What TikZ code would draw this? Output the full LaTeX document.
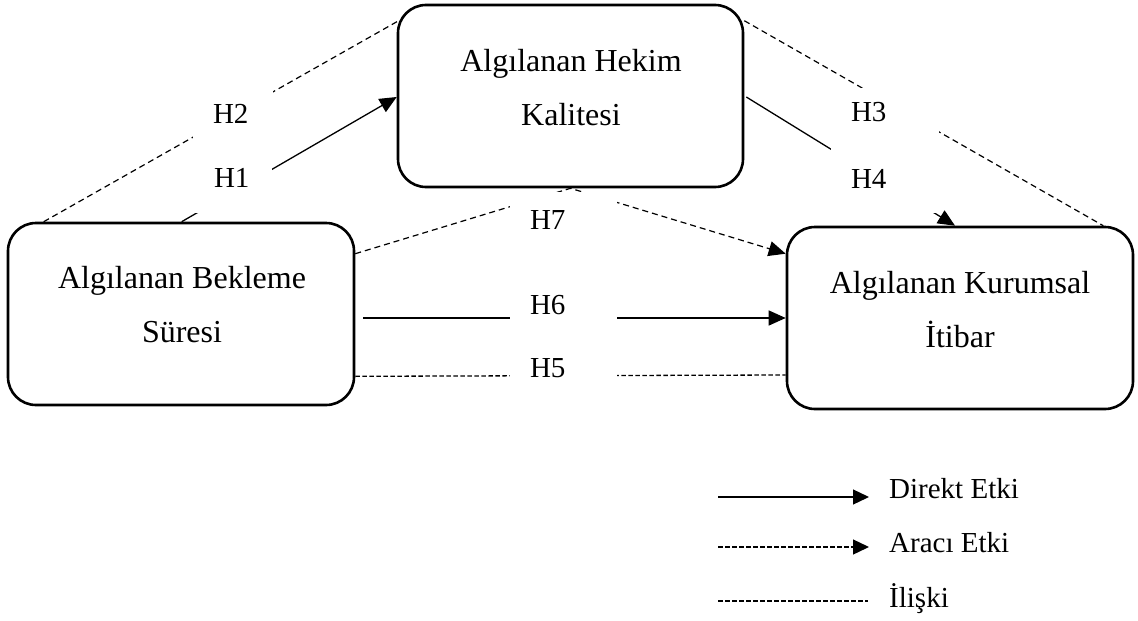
\documentclass[tikz,border=0pt]{standalone}
\usepackage{fontspec}
\setmainfont{Liberation Serif}
\usetikzlibrary{arrows.meta,calc}
\begin{document}
\begin{tikzpicture}[x=1pt,y=-1pt,
  box/.style={draw, line width=2.6pt, rounded corners=28pt, minimum width=346pt, minimum height=182pt, inner sep=0pt},
  boxtext/.style={align=center, font=\fontsize{32}{54}\selectfont, inner sep=0pt},
  hlab/.style={fill=white, inner xsep=20pt, inner ysep=0pt, align=left, font=\fontsize{29}{34}\selectfont},
  solidline/.style={line width=1.3pt},
  dashline/.style={line width=1.2pt, dash pattern=on 6pt off 4pt},
  fineline/.style={line width=1.3pt, dash pattern=on 4.5pt off 2.5pt},
  tip/.style={-{Triangle[length=17pt,width=15pt]}},
  legtip/.style={-{Triangle[length=16pt,width=15pt]}},
  legtext/.style={anchor=base west, font=\fontsize{29}{34}\selectfont, inner sep=0pt}]
\useasboundingbox (0,0) rectangle (1138,621);

% boxes (positions)
\path (570.5,96) node[box, minimum width=345pt] (hekim) {};
\path (181,314) node[box] (bekleme) {};
\path (960,318) node[box] (kurumsal) {};

% connectors
\draw[dashline] ($(bekleme.north west)+(37,0)$) -- ($(hekim.north west)+(2,17)$);
\draw[solidline, tip] ($(bekleme.north west)+(175,0)$) -- ($(hekim.west)+(0,1)$);
\draw[dashline] ($(hekim.north east)+(0,17)$) -- ($(kurumsal.north east)+(-31,0)$);
\draw[solidline, tip] ($(hekim.east)+(2,1)$) -- ($(kurumsal.north)+(-5,0)$);
\draw[dashline, tip] ($(bekleme.north east)+(0,32)$) -- (hekim.south) -- ($(kurumsal.north west)+(0,28)$);
\draw[solidline, tip] ($(bekleme.east)+(8,4)$) -- (kurumsal.west);
\draw[fineline] ($(bekleme.south east)+(0,-30)$) -- ($(kurumsal.west)+(0,57)$);

% labels (white masks)
\node[hlab, text width=40pt, minimum height=52pt] (h2) at (233,114) {H2};
\node[hlab, text width=38pt, minimum height=70pt] (h1) at (233,178) {H1};
\node[hlab, text width=68pt, minimum height=48pt] (h3) at (885,112) {H3};
\node[hlab, text width=68pt, minimum height=68pt] (h4) at (885,179) {H4};
\node[hlab, text width=67pt, minimum height=57pt] (h7) at (563.5,220) {H7};
\node[hlab, text width=67pt, minimum height=40pt] (h6) at (563.5,305) {H6};
\node[hlab, text width=67pt, minimum height=40pt] (h5) at (563.5,368) {H5};

% box texts
\node[boxtext] (thekim) at (571,88) {Algılanan Hekim\\Kalitesi};
\node[boxtext] (tbekleme) at (182,305) {Algılanan Bekleme\\Süresi};
\node[boxtext] (tkurumsal) at (960,309.5) {Algılanan Kurumsal\\İtibar};

% legend
\coordinate (l1a) at (718,497); \coordinate (l1b) at (869,497);
\coordinate (l2a) at (718,547); \coordinate (l2b) at (869,547);
\coordinate (l3a) at (718,601); \coordinate (l3b) at (868,601);
\draw[solidline, legtip] (l1a) -- (l1b);
\draw[fineline, legtip] (l2a) -- (l2b);
\draw[fineline] (l3a) -- (l3b);
\node[legtext] (t1) at (889,498) {Direkt Etki};
\node[legtext] (t2) at (889,552) {Aracı Etki};
\node[legtext] (t3) at (889,607) {İlişki};
\end{tikzpicture}
\end{document}
